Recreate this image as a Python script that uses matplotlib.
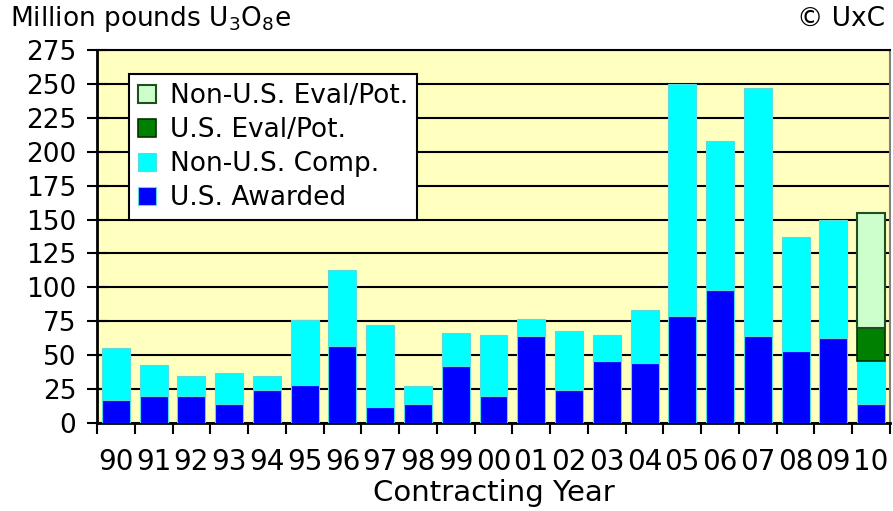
import numpy as np
import matplotlib
matplotlib.use("Agg")
import matplotlib.pyplot as plt
from matplotlib.patches import Patch

# values, million pounds U3O8e
years = ["90", "91", "92", "93", "94", "95", "96", "97", "98", "99", "00",
         "01", "02", "03", "04", "05", "06", "07", "08", "09", "10"]
us_awarded = [17, 20, 20, 14, 24, 28, 57, 12, 14, 42, 20,
              64, 24, 46, 44, 79, 98, 64, 53, 63, 14]
non_us_comp = [38, 23, 15, 23, 11, 48, 56, 60, 13, 24, 45,
               13, 44, 19, 39, 171, 110, 183, 84, 87, 32]
us_eval = [0] * 20 + [24]
non_us_eval = [0] * 20 + [85]

plt.rcParams['font.family'] = ['DejaVu Sans']

fig = plt.figure(figsize=(8.93, 5.11), dpi=100)
ax = fig.add_axes([97 / 893, 88 / 511, 793 / 893, 373 / 511])
ax.set_facecolor("#FFFFC0")

x = np.arange(len(years))
w = 0.74
b1 = np.array(us_awarded)
b2 = b1 + np.array(non_us_comp)
b3 = b2 + np.array(us_eval)

# no outline on empty segments
lw3 = [1.2 if v else 0 for v in us_eval]
lw4 = [1.5 if v else 0 for v in non_us_eval]

ax.bar(x, us_awarded, w, color="#0000FF", edgecolor="#55DDDD", lw=0.8, zorder=3)
ax.bar(x, non_us_comp, w, bottom=b1, color="#00FFFF", edgecolor="#55DDDD", lw=0.8, zorder=3)
ax.bar(x, us_eval, w, bottom=b2, color="#008000", edgecolor="#003300", lw=lw3, zorder=3)
ax.bar(x, non_us_eval, w, bottom=b3, color="#CCFFCC", edgecolor="#1F4F1F", lw=lw4, zorder=3)

ax.set_xlim(-0.5, len(years) - 0.5)
ax.set_ylim(0, 275)
ax.set_yticks(np.arange(0, 276, 25))
ax.yaxis.grid(True, color="black", lw=1.5, zorder=1)
ax.set_axisbelow(True)

# ticks between bars, labels under bars
ax.set_xticks(np.arange(-0.5, len(years), 1.0))
ax.set_xticklabels([])
ax.set_xticks(x, minor=True)
ax.set_xticklabels(years, minor=True, fontsize=20)
ax.tick_params(axis="x", which="major", direction="out", length=8, width=1.5)
ax.tick_params(axis="x", which="minor", length=0, pad=18)
ax.tick_params(axis="y", direction="inout", length=14, width=1.5, labelsize=19, pad=8)

for s in ["left", "bottom"]:
    ax.spines[s].set_linewidth(2)
ax.spines["top"].set_linewidth(1.5)
ax.spines["right"].set_linewidth(1.5)
ax.spines["right"].set_color("#808080")

ax.set_xlabel("Contracting Year", fontsize=21, labelpad=2)

handles = [Patch(facecolor="#CCFFCC", edgecolor="#1F4F1F", lw=1.5),
           Patch(facecolor="#008000", edgecolor="#003300", lw=1.2),
           Patch(facecolor="#00FFFF", edgecolor="#55DDDD", lw=0.8),
           Patch(facecolor="#0000FF", edgecolor="#55DDDD", lw=0.8)]
leg = ax.legend(handles,
                ["Non-U.S. Eval/Pot.", "U.S. Eval/Pot.", "Non-U.S. Comp.", "U.S. Awarded"],
                loc="upper left", bbox_to_anchor=(0.04, 0.935), fontsize=19,
                frameon=True, fancybox=False, edgecolor="black", framealpha=1,
                handlelength=0.7, handleheight=0.7, handletextpad=0.5,
                labelspacing=0.3, borderpad=0.35, borderaxespad=0)
leg.get_frame().set_linewidth(1.5)

fig.text(10 / 893, 1 - 19 / 511, "Million pounds U$_3$O$_8$e", fontsize=19, va="center")
fig.text(885 / 893, 1 - 19 / 511, "© UxC", fontsize=19, va="center", ha="right")

fig.savefig("out.png", dpi=100)
